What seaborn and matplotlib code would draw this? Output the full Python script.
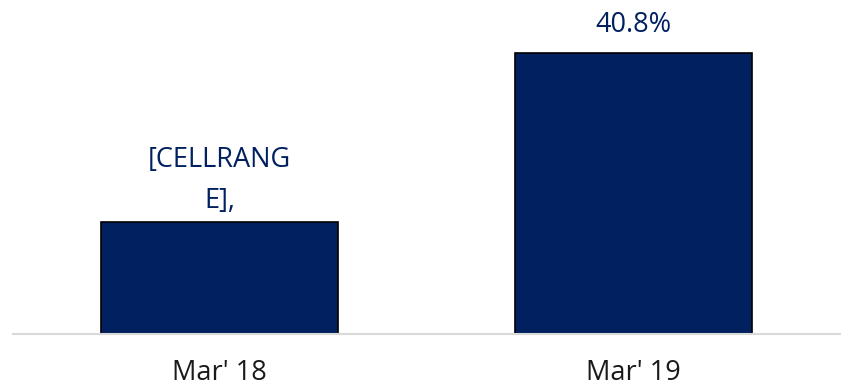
import matplotlib
matplotlib.use("Agg")
import matplotlib.pyplot as plt
import seaborn as sns
import pandas as pd

periods = ["Mar' 18", "Mar' 19"]
values = [16.3, 40.8]
bar_labels = ["[CELLRANG\nE],", "40.8%"]

df = pd.DataFrame({"period": periods, "value": values})

sns.set_style("white")
plt.rcParams["font.family"] = ["Open Sans", "DejaVu Sans"]

navy = "#002060"

fig = plt.figure(figsize=(8.41, 3.89), dpi=100)
ax = fig.add_axes([12.5 / 841, 55 / 389, 828 / 841, 334 / 389])

sns.barplot(data=df, x="period", y="value", color=navy, width=0.572,
            edgecolor="black", linewidth=1.2, saturation=1, ax=ax)

ax.set_ylim(0, 48.5)
ax.set_xlim(-0.5, 1.5)
ax.set_xlabel("")
ax.set_ylabel("")
ax.set_yticks([])
for s in ["top", "left", "right"]:
    ax.spines[s].set_visible(False)
ax.spines["bottom"].set_color("#d9d9d9")
ax.spines["bottom"].set_linewidth(1.5)
ax.tick_params(axis="x", length=0, pad=18, labelsize=19.5, labelcolor="#1a1a1a")

# multi-line label sits a bit closer to its bar
offsets = [5, 10]
for patch, lab, off in zip(ax.patches, bar_labels, offsets):
    x = patch.get_x() + patch.get_width() / 2
    ax.annotate(lab, (x, patch.get_height()), xytext=(0, off),
                textcoords="offset points", ha="center", va="bottom",
                fontsize=19.5, color=navy, linespacing=1.6)

fig.savefig("out.png", dpi=100)
